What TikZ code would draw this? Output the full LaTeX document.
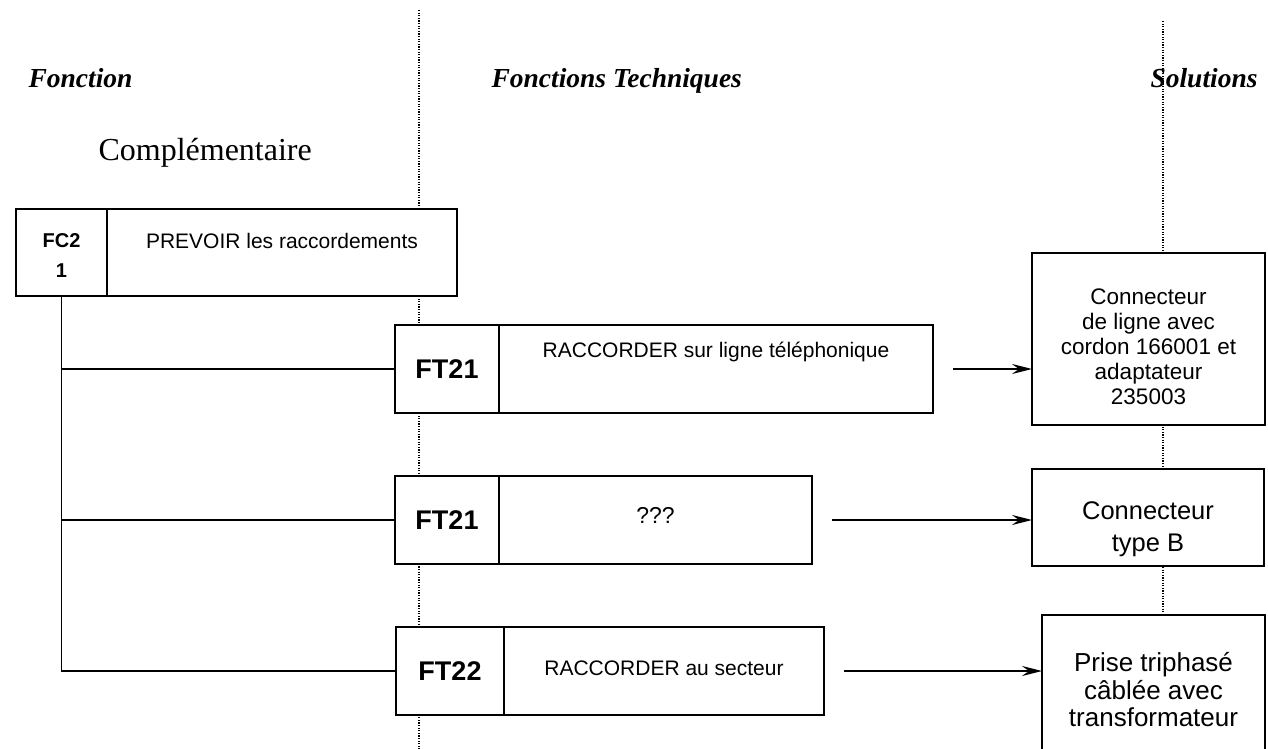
\documentclass[tikz,border=0pt]{standalone}
\usepackage{fontspec}
\setmainfont{Liberation Serif}
\setsansfont{Liberation Sans}
\usetikzlibrary{positioning}
\usetikzlibrary{arrows.meta}

\begin{document}
\begin{tikzpicture}[x=1pt,y=-1pt,
	box/.style={draw,line width=1.9pt,fill=white,inner sep=0pt,outer sep=0pt,align=center,minimum height=88pt},
	numbox/.style={box,font=\sffamily\bfseries\fontsize{27}{30}\selectfont},
	txtbox/.style={box,font=\sffamily\fontsize{21}{25}\selectfont},
	solbox/.style={draw,line width=1.9pt,fill=white,inner sep=0pt,outer sep=0pt,align=center,font=\sffamily},
	head/.style={anchor=base west,font=\bfseries\itshape\fontsize{27.5}{30}\selectfont},
	sep/.style={line width=1.2pt,dash pattern=on 1.2pt off 1.4pt},
	link/.style={line width=1.9pt},
	arr/.style={line width=1.9pt,-{Stealth[length=20pt,width=10pt,inset=7pt]},shorten <=20pt}]
	\useasboundingbox (0,0) rectangle (1268,749);
	\clip (0,0) rectangle (1268,749);

	% Column separators
	\draw [sep] (419,10) -- (419,749);
	\draw [sep] (1163,21) -- (1163,749);

	% Headings
	\node [head] (hfc) at (25,88) {Fonction};
	\node [anchor=base west,font=\fontsize{32}{36}\selectfont] (hcomp) at (95,160) {Complémentaire};
	\node [head] (hft) at (488,88) {Fonctions Techniques};
	\node [head] (hsol) at (1147,88) {Solutions};

	% Complementary function
	\node [numbox,minimum width=91pt,minimum height=87pt,font=\sffamily\bfseries\fontsize{20}{30}\selectfont,text height=50pt] at (61.5,252.5) (fc2num) {FC2\\1};
	\node [txtbox,right=0pt of fc2num,minimum width=350pt,minimum height=87pt,text height=15pt,text depth=24pt] (fc2txt) {PREVOIR les raccordements};

	% Technical functions
	\node [numbox,minimum width=104pt] at (447,369) (ft1num) {FT21};
	\node [txtbox,right=0pt of ft1num,minimum width=434pt,text height=15pt,text depth=39pt] (ft1txt) {RACCORDER sur ligne téléphonique};
	\node [numbox,minimum width=104pt] at (447,520) (ft2num) {FT21};
	\node [txtbox,right=0pt of ft2num,minimum width=313pt,font=\sffamily\fontsize{23}{25}\selectfont,text height=16pt,text depth=10pt] (ft2txt) {???};
	\node [numbox,minimum width=108pt] at (450,671) (ft3num) {FT22};
	\node [txtbox,right=0pt of ft3num,minimum width=320pt,text height=15pt,text depth=6pt] (ft3txt) {RACCORDER au secteur};

	% Solutions
	\node [solbox,minimum width=233pt,minimum height=172pt,font=\sffamily\fontsize{22.5}{25}\selectfont,text height=132pt] at (1148.5,339) (sol1) {Connecteur\\de ligne avec\\cordon 166001 et\\adaptateur\\235003};
	\node [solbox,minimum width=232pt,minimum height=97pt,font=\sffamily\fontsize{25.5}{32}\selectfont,text height=74pt] at (1148,517.5) (sol2) {Connecteur\\type B};
	\node [solbox,minimum width=223pt,minimum height=150pt,font=\sffamily\fontsize{26}{27.5}\selectfont] at (1153.5,690) (sol3) {Prise triphasé\\câblée avec\\transformateur};

	% Tree from FC2 to the technical functions
	\draw [link] (fc2num.south) |- (ft3num.west);
	\draw [link] (fc2num.south |- ft1num.west) -- (ft1num.west);
	\draw [link] (fc2num.south |- ft2num.west) -- (ft2num.west);

	% Arrows to the solutions
	\draw [arr] (ft1txt.east) -- (ft1txt.east -| sol1.west);
	\draw [arr] (ft2txt.east) -- (ft2txt.east -| sol2.west);
	\draw [arr] (ft3txt.east) -- (ft3txt.east -| sol3.west);
\end{tikzpicture}
\end{document}
